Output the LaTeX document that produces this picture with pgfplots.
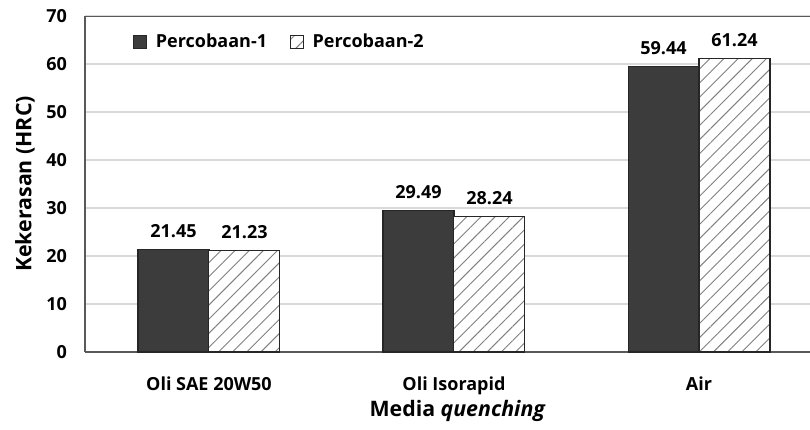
\documentclass[border=0pt]{standalone}
\usepackage{pgfplots}
\pgfplotsset{compat=1.18}
\usepackage{fontspec}
\setmainfont{Open Sans}
\usetikzlibrary{patterns.meta}
\definecolor{darkbar}{HTML}{3C3C3C}
\definecolor{gridc}{HTML}{D9D9D9}
\definecolor{axc}{HTML}{595959}
\newcommand{\ff}{\fontsize{13.5pt}{16pt}\selectfont\bfseries}
\newcommand{\fl}{\fontsize{16pt}{19pt}\selectfont\bfseries}
\begin{document}
\begin{tikzpicture}
\path[use as bounding box] (-63.75pt,-57.75pt) rectangle (543.75pt,264pt);
\begin{axis}[
  at={(0,0)}, anchor=south west,
  scale only axis, width=543.75pt, height=252pt,
  ybar, bar width=53.25pt,
  xmin=-0.506, xmax=2.453, ymin=0, ymax=70,
  xtick={0,1,2},
  xticklabels={Oli SAE 20W50, Oli Isorapid, Air},
  ytick={0,10,...,70},
  major tick length=0pt,
  ymajorgrids, grid style={gridc, line width=0.8pt},
  axis lines*=left,
  axis line style={axc, line width=1.2pt, -},
  ticklabel style={font=\ff},
  /pgf/number format/assume math mode=true,
  yticklabel style={xshift=-10pt},
  xticklabel style={yshift=-15pt},
  every axis y label/.style={at={(rel axis cs:0,0.5)}, xshift=-45pt, rotate=90, anchor=center, font=\fl},
  every axis x label/.style={at={(rel axis cs:0.514,0)}, yshift=-44pt, anchor=center, font=\fl},
  ylabel={Kekerasan (HRC)},
  xlabel={Media \textit{quenching}},
  nodes near coords={\pgfmathprintnumber[fixed,fixed zerofill,precision=2,assume math mode=true]{\pgfplotspointmeta}},
  nodes near coords style={font=\ff, yshift=5pt},
  legend style={draw=none, fill=none, at={(rel axis cs:0.066,0.955)}, anchor=north west,
    font=\ff, column sep=0pt, inner sep=0pt,
    /tikz/every odd column/.append style={column sep=4.5pt},
    /tikz/every even column/.append style={column sep=15pt}},
  legend columns=2,
  legend image code/.code={\draw[#1, line width=0.6pt] (0pt,-5pt) rectangle (10pt,5pt);},
]
\addplot[fill=darkbar, draw=black!85, line width=0.8pt, bar shift=-26.6pt]
  coordinates {(0,21.45) (1,29.49) (2,59.44)};
\addplot[fill=white, draw=black!85, line width=0.8pt, bar shift=26.6pt,
  postaction={pattern={Lines[angle=45, distance=7.5pt, line width=0.7pt]}, pattern color=gray}]
  coordinates {(0,21.23) (1,28.24) (2,61.24)};
\legend{Percobaan-1, Percobaan-2}
\draw[axc, line width=1.2pt] (rel axis cs:0,1) -- (rel axis cs:1,1);
\end{axis}
\end{tikzpicture}
\end{document}
